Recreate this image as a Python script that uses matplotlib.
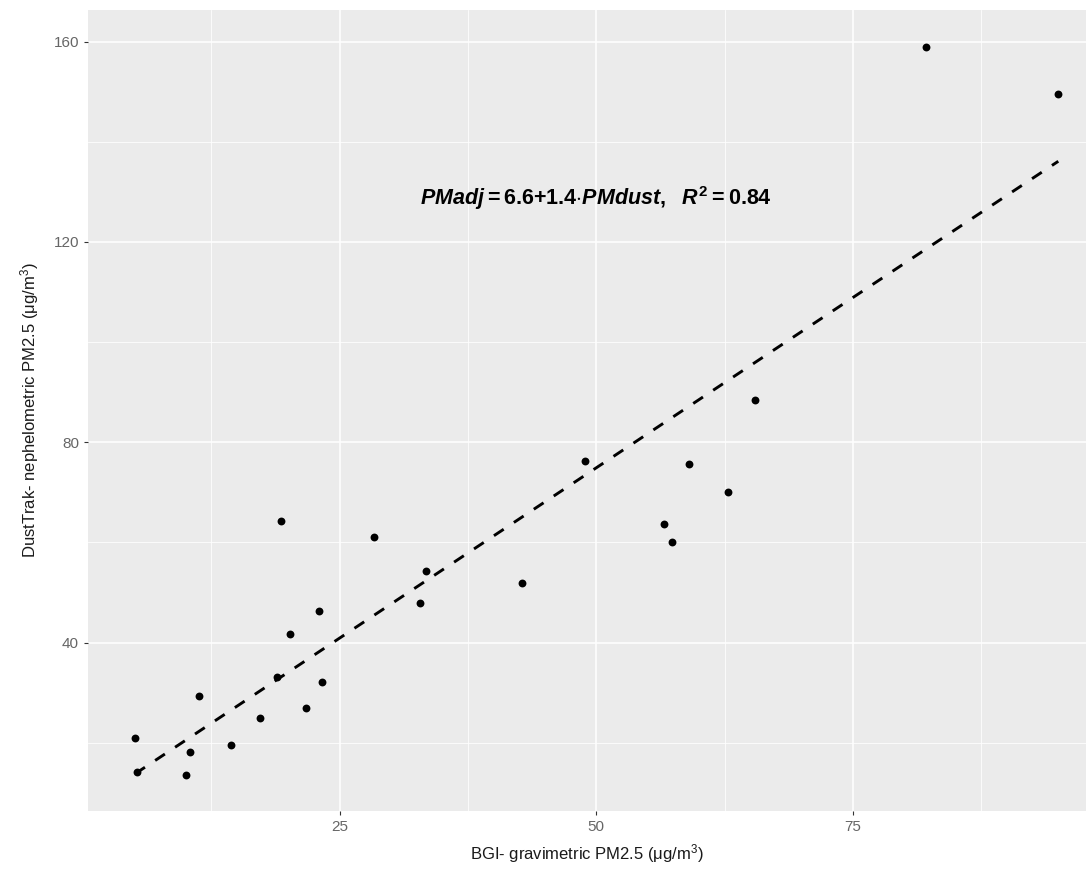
import numpy as np
import matplotlib
matplotlib.use("Agg")
import matplotlib.pyplot as plt
from matplotlib.ticker import FixedLocator

# Data
bgi_gravimetric = [5.1, 5.3, 10.0, 10.4, 11.3, 14.4, 17.3, 18.9, 19.3, 20.2, 21.7,
                   23.0, 23.3, 28.4, 32.8, 33.4, 42.8, 48.9, 56.6, 57.4, 59.0,
                   62.8, 65.5, 82.1, 95.0]
dusttrak_neph = [21.0, 14.1, 13.6, 18.2, 29.4, 19.6, 25.0, 33.2, 64.3, 41.7, 26.9,
                 46.3, 32.1, 61.0, 47.9, 54.4, 52.0, 76.2, 63.7, 60.1, 75.7,
                 70.0, 88.5, 159.0, 149.5]
fit_intercept = 6.9
fit_slope = 1.36
x_ticks = [25, 50, 75]
x_minor = [12.5, 37.5, 62.5, 87.5]
y_ticks = [40, 80, 120, 160]
y_minor = [20, 60, 100, 140]
equation_label = r"$PMadj = 6.6{+}1.4{\cdot}PMdust,\ \ R^2 = 0.84$"

plt.rcParams['font.family'] = ['Liberation Sans', 'DejaVu Sans']
plt.rcParams['mathtext.fontset'] = 'custom'
plt.rcParams['mathtext.it'] = 'Liberation Sans:italic:bold'
plt.rcParams['mathtext.rm'] = 'Liberation Sans:bold'
plt.rcParams['mathtext.bf'] = 'Liberation Sans:bold'

fig = plt.figure(figsize=(10.86, 8.75), dpi=100)
ax = fig.add_axes([88/1086, (875-811)/875, 1 - 88/1086, (811-10)/875])
ax.set_facecolor('#EBEBEB')
for s in ax.spines.values():
    s.set_visible(False)

ax.set_xlim(0.5, 97.7)
ax.set_ylim(6.39, 166.3)

ax.xaxis.set_major_locator(FixedLocator(x_ticks))
ax.xaxis.set_minor_locator(FixedLocator(x_minor))
ax.yaxis.set_major_locator(FixedLocator(y_ticks))
ax.yaxis.set_minor_locator(FixedLocator(y_minor))
ax.grid(which='major', color='white', linewidth=1.1)
ax.grid(which='minor', color='white', linewidth=0.55)
ax.set_axisbelow(True)
ax.tick_params(which='major', length=3, width=0.8, color='#333333',
               labelcolor='#666666', labelsize=11, pad=3.5)
ax.tick_params(which='minor', length=0)

xs = np.array(bgi_gravimetric)
ax.scatter(xs, dusttrak_neph, s=32, color='black', zorder=3, linewidths=0)
xl = np.array([xs.min(), xs.max()])
line, = ax.plot(xl, fit_intercept + fit_slope * xl, color='black', linewidth=2.1, zorder=2)
line.set_dashes([4.0, 4.2])

ax.text(50.0, 128.8, equation_label, ha='center', va='center', fontsize=15.5, color='black')

ax.set_xlabel(r"BGI- gravimetric PM2.5 (μg/m$^{\mathregular{3}}$)", fontsize=12, labelpad=6,
              color='#1A1A1A')
ax.set_ylabel(r"DustTrak- nephelometric PM2.5 (μg/m$^{\mathregular{3}}$)", fontsize=12, labelpad=9,
              color='#1A1A1A')

fig.savefig("out.png", dpi=100, facecolor='white')
